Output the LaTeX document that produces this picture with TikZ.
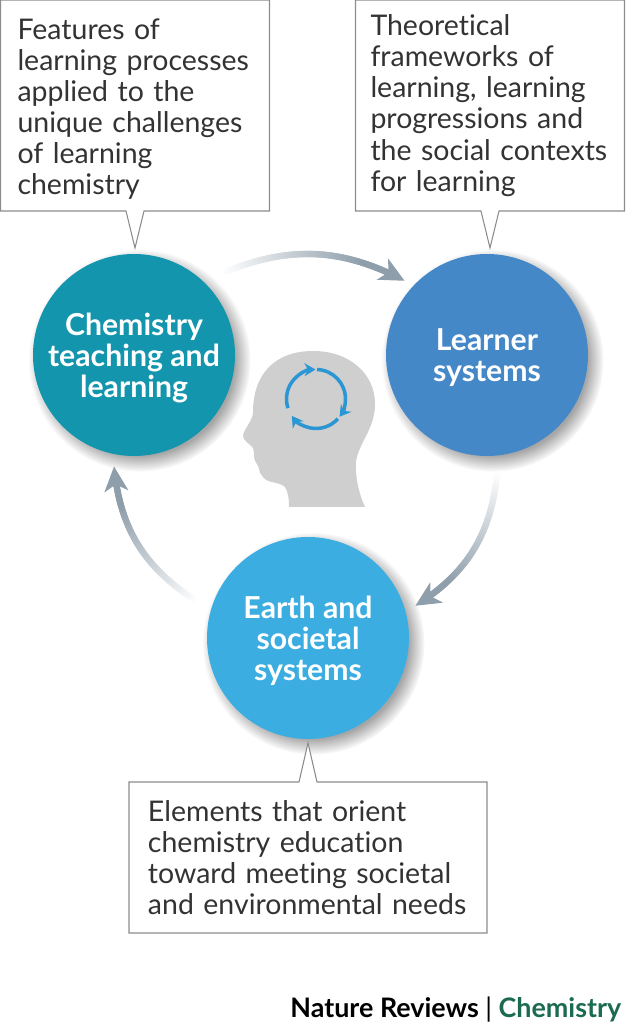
\documentclass[tikz,border=0pt]{standalone}
\usepackage{fontspec}
\setmainfont[Ligatures=NoCommon]{Lato}
\usetikzlibrary{shapes.callouts,shadows,decorations.markings,arrows.meta}
\definecolor{chemteal}{HTML}{1295AD}
\definecolor{learnblue}{HTML}{4588C8}
\definecolor{earthblue}{HTML}{3BADE0}
\definecolor{arcgrey}{HTML}{8E9EAB}
\definecolor{boxgrey}{HTML}{8C8C8C}
\definecolor{inkgrey}{HTML}{333333}
\definecolor{headgrey}{HTML}{CFCFCF}
\definecolor{loopblue}{HTML}{2A96D4}
\definecolor{journalgreen}{HTML}{1A6B50}
\tikzset{
  sysnode/.style={circle, minimum size=2.02cm, inner sep=0pt, align=center, text=white, text depth=0pt,
    font=\fontsize{8.6pt}{8.85pt}\selectfont\bfseries,
    circular drop shadow={shadow xshift=0.05cm, shadow yshift=-0.05cm, opacity=0.35, fill=black}},
  notebox/.style={rectangle callout, draw=boxgrey, line width=0.3pt, fill=white, text=inkgrey,
    callout pointer width=0.18cm, inner ysep=0pt, align=left,
    font=\fontsize{8.1pt}{8.85pt}\selectfont},
  fadearrow/.style={decoration={markings,
      mark=between positions 0 and 0.94 step 0.01cm with {
        \pgfmathsetmacro\fadepct{min(100,130*\pgfkeysvalueof{/pgf/decoration/mark info/distance from start}/\pgfdecoratedpathlength)}
        \fill[arcgrey!\fadepct!white] (0,0) circle (0.033cm);},
      mark=at position 1 with {\arrow[arcgrey]{Stealth[length=0.25cm,width=0.24cm,inset=0.07cm]}}},
    decorate},
  looparrow/.style={draw=loopblue, line width=0.035cm, -{Stealth[length=0.11cm,width=0.13cm]}},
}
\begin{document}
\begin{tikzpicture}
  \useasboundingbox (0,0) rectangle (6.25,10.24);

  % circles
  \node[sysnode, fill=chemteal] (chem) at (1.34,6.69) {Chemistry\\teaching and\\learning};
  \node[sysnode, fill=learnblue] (learner) at (4.87,6.69) {Learner\\systems};
  \node[sysnode, fill=earthblue] (earth) at (3.08,3.86) {Earth and\\societal\\systems};

  % notes
  \node[notebox, minimum width=2.69cm, minimum height=2.11cm, inner xsep=0.17cm, text width=2.35cm, text depth=43.5pt,
    callout absolute pointer={(1.35,7.76)}] (notechem) at (1.35,9.185)
    {Features of\\learning processes\\applied to the\\unique challenges\\of learning\\chemistry};
  \node[notebox, minimum width=2.69cm, minimum height=2.11cm, inner xsep=0.15cm, text width=2.39cm,
    callout absolute pointer={(4.90,7.76)}] (notelearner) at (4.90,9.185)
    {Theoretical\\frameworks of\\learning, learning\\progressions and\\the social contexts\\for learning};
  \node[notebox, minimum width=3.58cm, minimum height=1.51cm, inner xsep=0.19cm, text width=3.20cm,
    callout absolute pointer={(3.08,2.81)}] (noteearth) at (3.08,1.665)
    {Elements that orient\\chemistry education\\toward meeting societal\\and environmental needs};

  % cycle arrows
  \coordinate (chemtail) at (2.25,7.52);
  \coordinate (learnerhead) at (4.05,7.43);
  \coordinate (learnertail) at (4.97,5.49);
  \coordinate (earthhead) at (4.15,4.18);
  \coordinate (earthtail) at (1.95,4.24);
  \coordinate (chemhead) at (1.14,5.58);
  \path[fadearrow] (chemtail) to[bend left=25] (learnerhead);
  \path[fadearrow] (learnertail) to[bend left=26] (earthhead);
  \path[fadearrow] (earthtail) to[bend left=26] (chemhead);

  % head
  \fill[headgrey] (3.65,5.17) -- (2.89,5.17)
    .. controls (2.89,5.26) and (2.88,5.32) .. (2.85,5.37)
    .. controls (2.78,5.43) and (2.68,5.40) .. (2.63,5.47)
    .. controls (2.58,5.52) and (2.60,5.56) .. (2.57,5.60)
    .. controls (2.52,5.66) and (2.55,5.72) .. (2.53,5.76)
    .. controls (2.50,5.80) and (2.42,5.84) .. (2.43,5.89)
    .. controls (2.46,5.98) and (2.53,6.04) .. (2.53,6.12)
    .. controls (2.53,6.50) and (2.75,6.73) .. (3.13,6.73)
    .. controls (3.50,6.73) and (3.75,6.50) .. (3.75,6.20)
    .. controls (3.75,5.95) and (3.58,5.80) .. (3.56,5.62)
    .. controls (3.55,5.47) and (3.59,5.30) .. (3.65,5.17) -- cycle;
  \draw[looparrow] (3.16,6.25) ++(198:0.295) arc[start angle=198, end angle=91, radius=0.295];
  \draw[looparrow] (3.16,6.25) ++(88:0.295) arc[start angle=88, end angle=-37, radius=0.295];
  \draw[looparrow] (3.16,6.25) ++(-42:0.295) arc[start angle=-42, end angle=-145, radius=0.295];

  % credit
  \node[anchor=base east, inner sep=0pt, font=\fontsize{7.65pt}{8.85pt}\selectfont\bfseries] (credit) at (6.22,0.07)
    {Nature Reviews {\mdseries|} \textcolor{journalgreen}{Chemistry}};
\end{tikzpicture}
\end{document}
